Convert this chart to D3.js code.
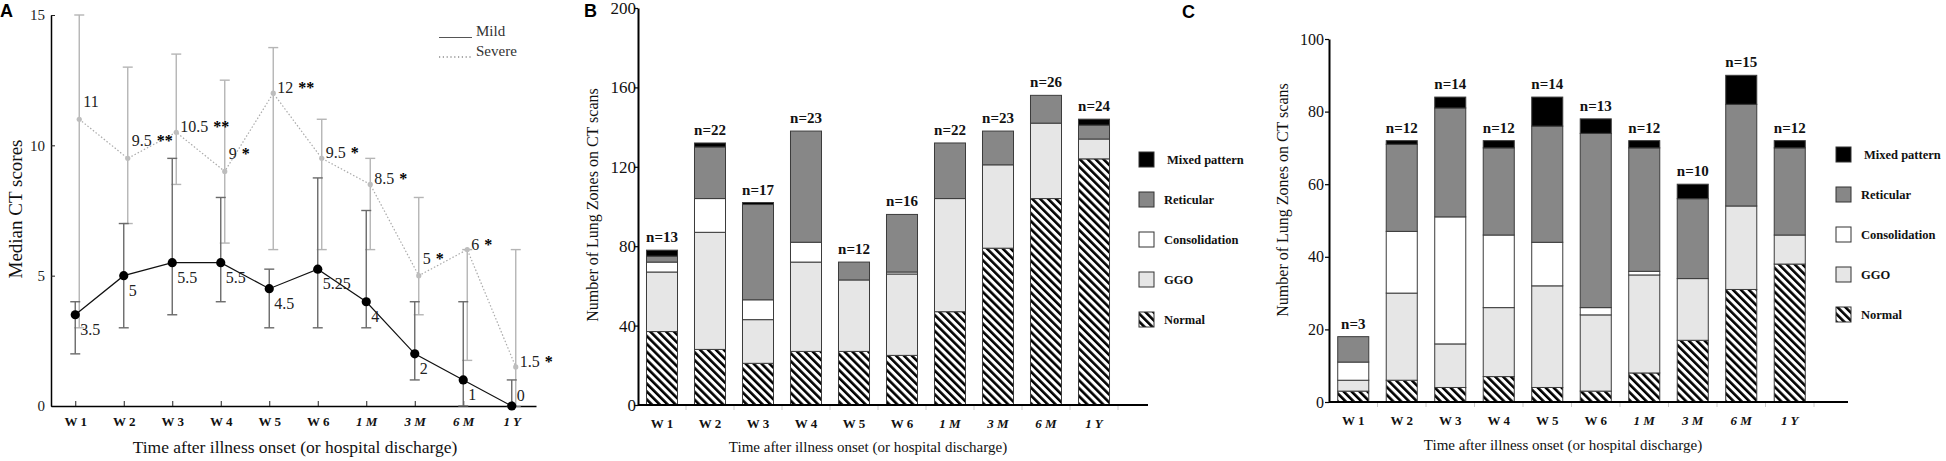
<!DOCTYPE html>
<html><head><meta charset="utf-8">
<script src="https://cdn.jsdelivr.net/npm/d3@7"></script>
<style>body{margin:0;background:#fff}svg{display:block}text{font-family:"Liberation Serif","Times New Roman",serif}</style>
</head><body><svg id="c" width="1946" height="461"></svg>
<script>
// ---------- data ----------
const categories = ["W 1","W 2","W 3","W 4","W 5","W 6","1 M","3 M","6 M","1 Y"];
// Panel A
const mildMedian   = [3.5, 5, 5.5, 5.5, 4.5, 5.25, 4, 2, 1, 0];
const mildLow      = [2, 3, 3.5, 4, 3, 3, 3, 1, 0, 0];
const mildHigh     = [4, 7, 9.5, 8, 5.25, 8.75, 7.5, 4, 4, 1];
const severeMedian = [11, 9.5, 10.5, 9, 12, 9.5, 8.5, 5, 6, 1.5];
const severeLow    = [3, 7, 8.5, 6.25, 6, 6, 6, 3.5, 1.75, 0];
const severeHigh   = [15, 13, 13.5, 12.5, 13.75, 11, 9.5, 8, 6, 6];
const severeStars  = ["", "**", "**", "*", "**", "*", "*", "*", "*", "*"];
const yTicksA = [0, 5, 10, 15];
// Panel B
const bN      = [13, 22, 17, 23, 12, 16, 22, 23, 26, 24];
const bNormal = [37, 28, 21, 27, 27, 25, 47, 79, 104, 124];
const bGGO    = [30, 59, 22, 45, 36, 41, 57, 42, 38, 10];
const bCons   = [5, 17, 10, 10, 0, 1, 0, 0, 0, 0];
const bRet    = [3, 26, 48, 56, 9, 29, 28, 17, 14, 7];
const bMixed  = [3, 2, 1, 0, 0, 0, 0, 0, 0, 3];
const yTicksB = [0, 40, 80, 120, 160, 200];
// Panel C
const cN      = [3, 12, 14, 12, 14, 13, 12, 10, 15, 12];
const cNormal = [3, 6, 4, 7, 4, 3, 8, 17, 31, 38];
const cGGO    = [3, 24, 12, 19, 28, 21, 27, 17, 23, 8];
const cCons   = [5, 17, 35, 20, 12, 2, 1, 0, 0, 0];
const cRet    = [7, 24, 30, 24, 32, 48, 34, 22, 28, 24];
const cMixed  = [0, 1, 3, 2, 8, 4, 2, 4, 8, 2];
const yTicksC = [0, 20, 40, 60, 80, 100];
// legend
const legendKeys   = ["mixed", "ret", "cons", "ggo", "normal"];
const legendLabels = ["Mixed pattern", "Reticular", "Consolidation", "GGO", "Normal"];
const xTitle = "Time after illness onset (or hospital discharge)";

// ---------- setup ----------
const svg = d3.select("#c");
svg.append("rect").attr("width", 1946).attr("height", 461).attr("fill", "#fff");
const defs = svg.append("defs");
const pat = defs.append("pattern").attr("id", "hatch").attr("patternUnits", "userSpaceOnUse")
  .attr("width", 5.6).attr("height", 5.6).attr("patternTransform", "rotate(-45)");
pat.append("rect").attr("width", 5.6).attr("height", 5.6).attr("fill", "#fff");
pat.append("rect").attr("width", 2.6).attr("height", 5.6).attr("fill", "#000");

const fills = {normal: "url(#hatch)", ggo: "#e6e6e6", cons: "#ffffff", ret: "#878787", mixed: "#000"};
const isItal = d => /[MY]/.test(d);

function panelLetter(t, x, y) {
  svg.append("text").attr("x", x).attr("y", y).text(t)
    .style("font-family", "'Liberation Sans',Arial,sans-serif").style("font-weight", 700).style("font-size", "18px");
}

// ---------- Panel A ----------
(function () {
  const g = svg.append("g");
  const x = d3.scalePoint().domain(categories).range([51, 536]).padding(0.5);
  const y = d3.scaleLinear().domain([0, 15]).range([406, 15]);
  const off = 4;

  const ay = g.append("g").attr("transform", "translate(51,0)")
    .call(d3.axisLeft(y).tickValues(yTicksA).tickSize(-4).tickSizeOuter(0).tickPadding(6));
  ay.selectAll("text").style("font-size", "15px").attr("fill", "#222");
  const ax = g.append("g").attr("transform", "translate(0,406)")
    .call(d3.axisBottom(x).tickSize(-5).tickSizeOuter(0).tickPadding(11));
  ax.selectAll("text").style("font-size", "13px").style("font-weight", 700)
    .style("font-style", d => isItal(d) ? "italic" : "normal").attr("fill", "#111");
  [ay, ax].forEach(a => { a.select(".domain").attr("stroke", "#000").attr("stroke-width", 1.5); a.selectAll(".tick line").attr("stroke", "#222"); });

  // error bars
  function ebar(lo, hi, color, dx) {
    const eg = g.append("g").attr("stroke", color).attr("stroke-width", 1.4);
    categories.forEach((c, i) => {
      const cx = x(c) + dx;
      eg.append("line").attr("x1", cx).attr("x2", cx).attr("y1", y(lo[i])).attr("y2", y(hi[i]));
      eg.append("line").attr("x1", cx - 5).attr("x2", cx + 5).attr("y1", y(lo[i])).attr("y2", y(lo[i]));
      eg.append("line").attr("x1", cx - 5).attr("x2", cx + 5).attr("y1", y(hi[i])).attr("y2", y(hi[i]));
    });
  }
  ebar(severeLow, severeHigh, "#b5b5b5", off);
  ebar(mildLow, mildHigh, "#6a6a6a", 0);

  const sevLine = d3.line().x((d, i) => x(categories[i]) + off).y(d => y(d));
  g.append("path").datum(severeMedian).attr("d", sevLine).attr("fill", "none")
    .attr("stroke", "#aaa").attr("stroke-width", 1.2).attr("stroke-dasharray", "1.5,2");
  g.selectAll(".sd").data(severeMedian).enter().append("circle")
    .attr("cx", (d, i) => x(categories[i]) + off).attr("cy", d => y(d)).attr("r", 2.6).attr("fill", "#bdbdbd");

  const mildLine = d3.line().x((d, i) => x(categories[i])).y(d => y(d));
  g.append("path").datum(mildMedian).attr("d", mildLine).attr("fill", "none").attr("stroke", "#111").attr("stroke-width", 1.2);
  g.selectAll(".md").data(mildMedian).enter().append("circle")
    .attr("cx", (d, i) => x(categories[i])).attr("cy", d => y(d)).attr("r", 4.6).attr("fill", "#000");

  // mild value labels
  g.selectAll(".ml").data(mildMedian).enter().append("text")
    .attr("x", (d, i) => x(categories[i]) + 5)
    .attr("y", d => d === 0 ? y(d) - 5 : y(d) + 20)
    .style("font-size", "16px").attr("fill", "#222").text(d => d);
  // severe value labels with stars
  severeMedian.forEach((d, i) => {
    const raise = (i === 0 || (i < severeMedian.length - 1 && severeMedian[i + 1] >= d)) ? -12 : 0;
    const t = g.append("text").attr("x", x(categories[i]) + off + 4).attr("y", y(d) + raise)
      .style("font-size", "16px").attr("fill", "#222");
    t.append("tspan").text(d);
    if (severeStars[i]) t.append("tspan").attr("dx", 5).style("font-weight", 700).attr("fill", "#000").text(severeStars[i]);
  });

  // legend
  g.append("line").attr("x1", 439).attr("x2", 472).attr("y1", 37.5).attr("y2", 37.5).attr("stroke", "#555").attr("stroke-width", 1);
  g.append("text").attr("x", 476).attr("y", 36).style("font-size", "15px").attr("fill", "#333").text("Mild");
  g.append("line").attr("x1", 439).attr("x2", 472).attr("y1", 57).attr("y2", 57).attr("stroke", "#555")
    .attr("stroke-width", 1.2).attr("stroke-dasharray", "1.2,2.6");
  g.append("text").attr("x", 476).attr("y", 56).style("font-size", "15px").attr("fill", "#333").text("Severe");

  g.append("text").attr("transform", "translate(15,209) rotate(-90)").attr("text-anchor", "middle")
    .attr("dominant-baseline", "central").style("font-size", "19px").attr("fill", "#111").text("Median CT scores");
  g.append("text").attr("x", 295).attr("y", 453).attr("text-anchor", "middle").style("font-size", "17.5px").attr("fill", "#111").text(xTitle);
  panelLetter("A", 0, 17);
})();

// ---------- stacked panels ----------
function stackedPanel(opt) {
  const g = svg.append("g");
  const rows = categories.map((c, i) => ({cat: c, normal: opt.normal[i], ggo: opt.ggo[i], cons: opt.cons[i], ret: opt.ret[i], mixed: opt.mixed[i]}));
  const keys = ["normal", "ggo", "cons", "ret", "mixed"];
  const series = d3.stack().keys(keys)(rows);
  const x = d3.scaleBand().domain(categories).range(opt.xr).paddingInner(opt.pin).paddingOuter(opt.pin / 2);
  const y = d3.scaleLinear().domain(opt.yd).range(opt.yr);
  const bw = x.bandwidth(), step = x.step();

  // bars
  series.forEach(s => {
    g.append("g").selectAll("rect").data(s.filter(d => d[1] - d[0] > 0)).enter().append("rect")
      .attr("x", d => x(d.data.cat)).attr("width", bw)
      .attr("y", d => y(d[1])).attr("height", d => y(d[0]) - y(d[1]))
      .attr("fill", fills[s.key]).attr("stroke", "#3c3c3c").attr("stroke-width", 1);
  });
  // n labels
  rows.forEach((r, i) => {
    const tot = keys.reduce((a, k) => a + r[k], 0);
    g.append("text").attr("x", x(r.cat) + bw / 2).attr("y", y(tot) - 8).attr("text-anchor", "middle")
      .style("font-size", "15px").style("font-weight", 700).attr("fill", "#111").text("n=" + opt.n[i]);
  });

  // y axis
  const ay = g.append("g").attr("transform", `translate(${opt.xr[0]},0)`)
    .call(d3.axisLeft(y).tickValues(opt.yt).tickSize(4).tickSizeOuter(0).tickPadding(opt.tp));
  ay.select(".domain").attr("stroke", "#000").attr("stroke-width", 2);
  ay.selectAll(".tick line").attr("stroke", "#000").attr("stroke-width", 1.2);
  ay.selectAll("text").style("font-size", opt.tfs).attr("fill", "#111");

  // x axis
  g.append("line").attr("x1", opt.xr[0]).attr("x2", opt.xEnd).attr("y1", y(0)).attr("y2", y(0))
    .attr("stroke", "#000").attr("stroke-width", 2);
  const bounds = categories.map(c => x(c) - (step - bw) / 2).concat([x(categories[categories.length - 1]) + bw + (step - bw) / 2]);
  g.selectAll(".bt").data(bounds.slice(1)).enter().append("line")
    .attr("x1", d => d).attr("x2", d => d).attr("y1", y(0) + 1).attr("y2", y(0) + 5).attr("stroke", "#ccc");
  g.selectAll(".xl").data(categories).enter().append("text")
    .attr("x", d => x(d) + bw / 2).attr("y", opt.xly).attr("text-anchor", "middle")
    .style("font-size", "13px").style("font-weight", 700).style("font-style", d => isItal(d) ? "italic" : "normal")
    .attr("fill", "#111").text(d => d);

  g.append("text").attr("transform", `translate(${opt.ytx},${opt.yty}) rotate(-90)`).attr("text-anchor", "middle")
    .attr("dominant-baseline", "central").style("font-size", "16px").attr("fill", "#111").text("Number of Lung Zones on CT scans");
  g.append("text").attr("x", opt.xtx).attr("y", opt.xty).attr("text-anchor", "middle").style("font-size", "15px").attr("fill", "#111").text(xTitle);

  // legend
  legendKeys.forEach((k, i) => {
    const ly = opt.lgY + i * 40;
    g.append("rect").attr("x", opt.lgX).attr("y", ly).attr("width", 15).attr("height", 15)
      .attr("fill", fills[k]).attr("stroke", "#333").attr("stroke-width", 1);
    g.append("text").attr("x", opt.lgX + 25 + (i === 0 ? 3 : 0)).attr("y", ly + 7.5).attr("dominant-baseline", "central")
      .style("font-size", "12.5px").style("font-weight", 700).attr("fill", "#111").text(legendLabels[i]);
  });
}

stackedPanel({normal: bNormal, ggo: bGGO, cons: bCons, ret: bRet, mixed: bMixed, n: bN,
  xr: [638, 1118], pin: 0.354, xEnd: 1148, yd: [0, 200], yr: [405, 8], yt: yTicksB, tp: -2, tfs: "17px",
  xly: 428, ytx: 592, yty: 205, xtx: 868, xty: 452, lgX: 1139, lgY: 152});
stackedPanel({normal: cNormal, ggo: cGGO, cons: cCons, ret: cRet, mixed: cMixed, n: cN,
  xr: [1329, 1814], pin: 0.36, xEnd: 1848, yd: [0, 100], yr: [402, 39], yt: yTicksC, tp: 1, tfs: "16px",
  xly: 425, ytx: 1282, yty: 200, xtx: 1563, xty: 450, lgX: 1836, lgY: 147});
panelLetter("B", 584, 17);
panelLetter("C", 1182, 18);
</script></body></html>
